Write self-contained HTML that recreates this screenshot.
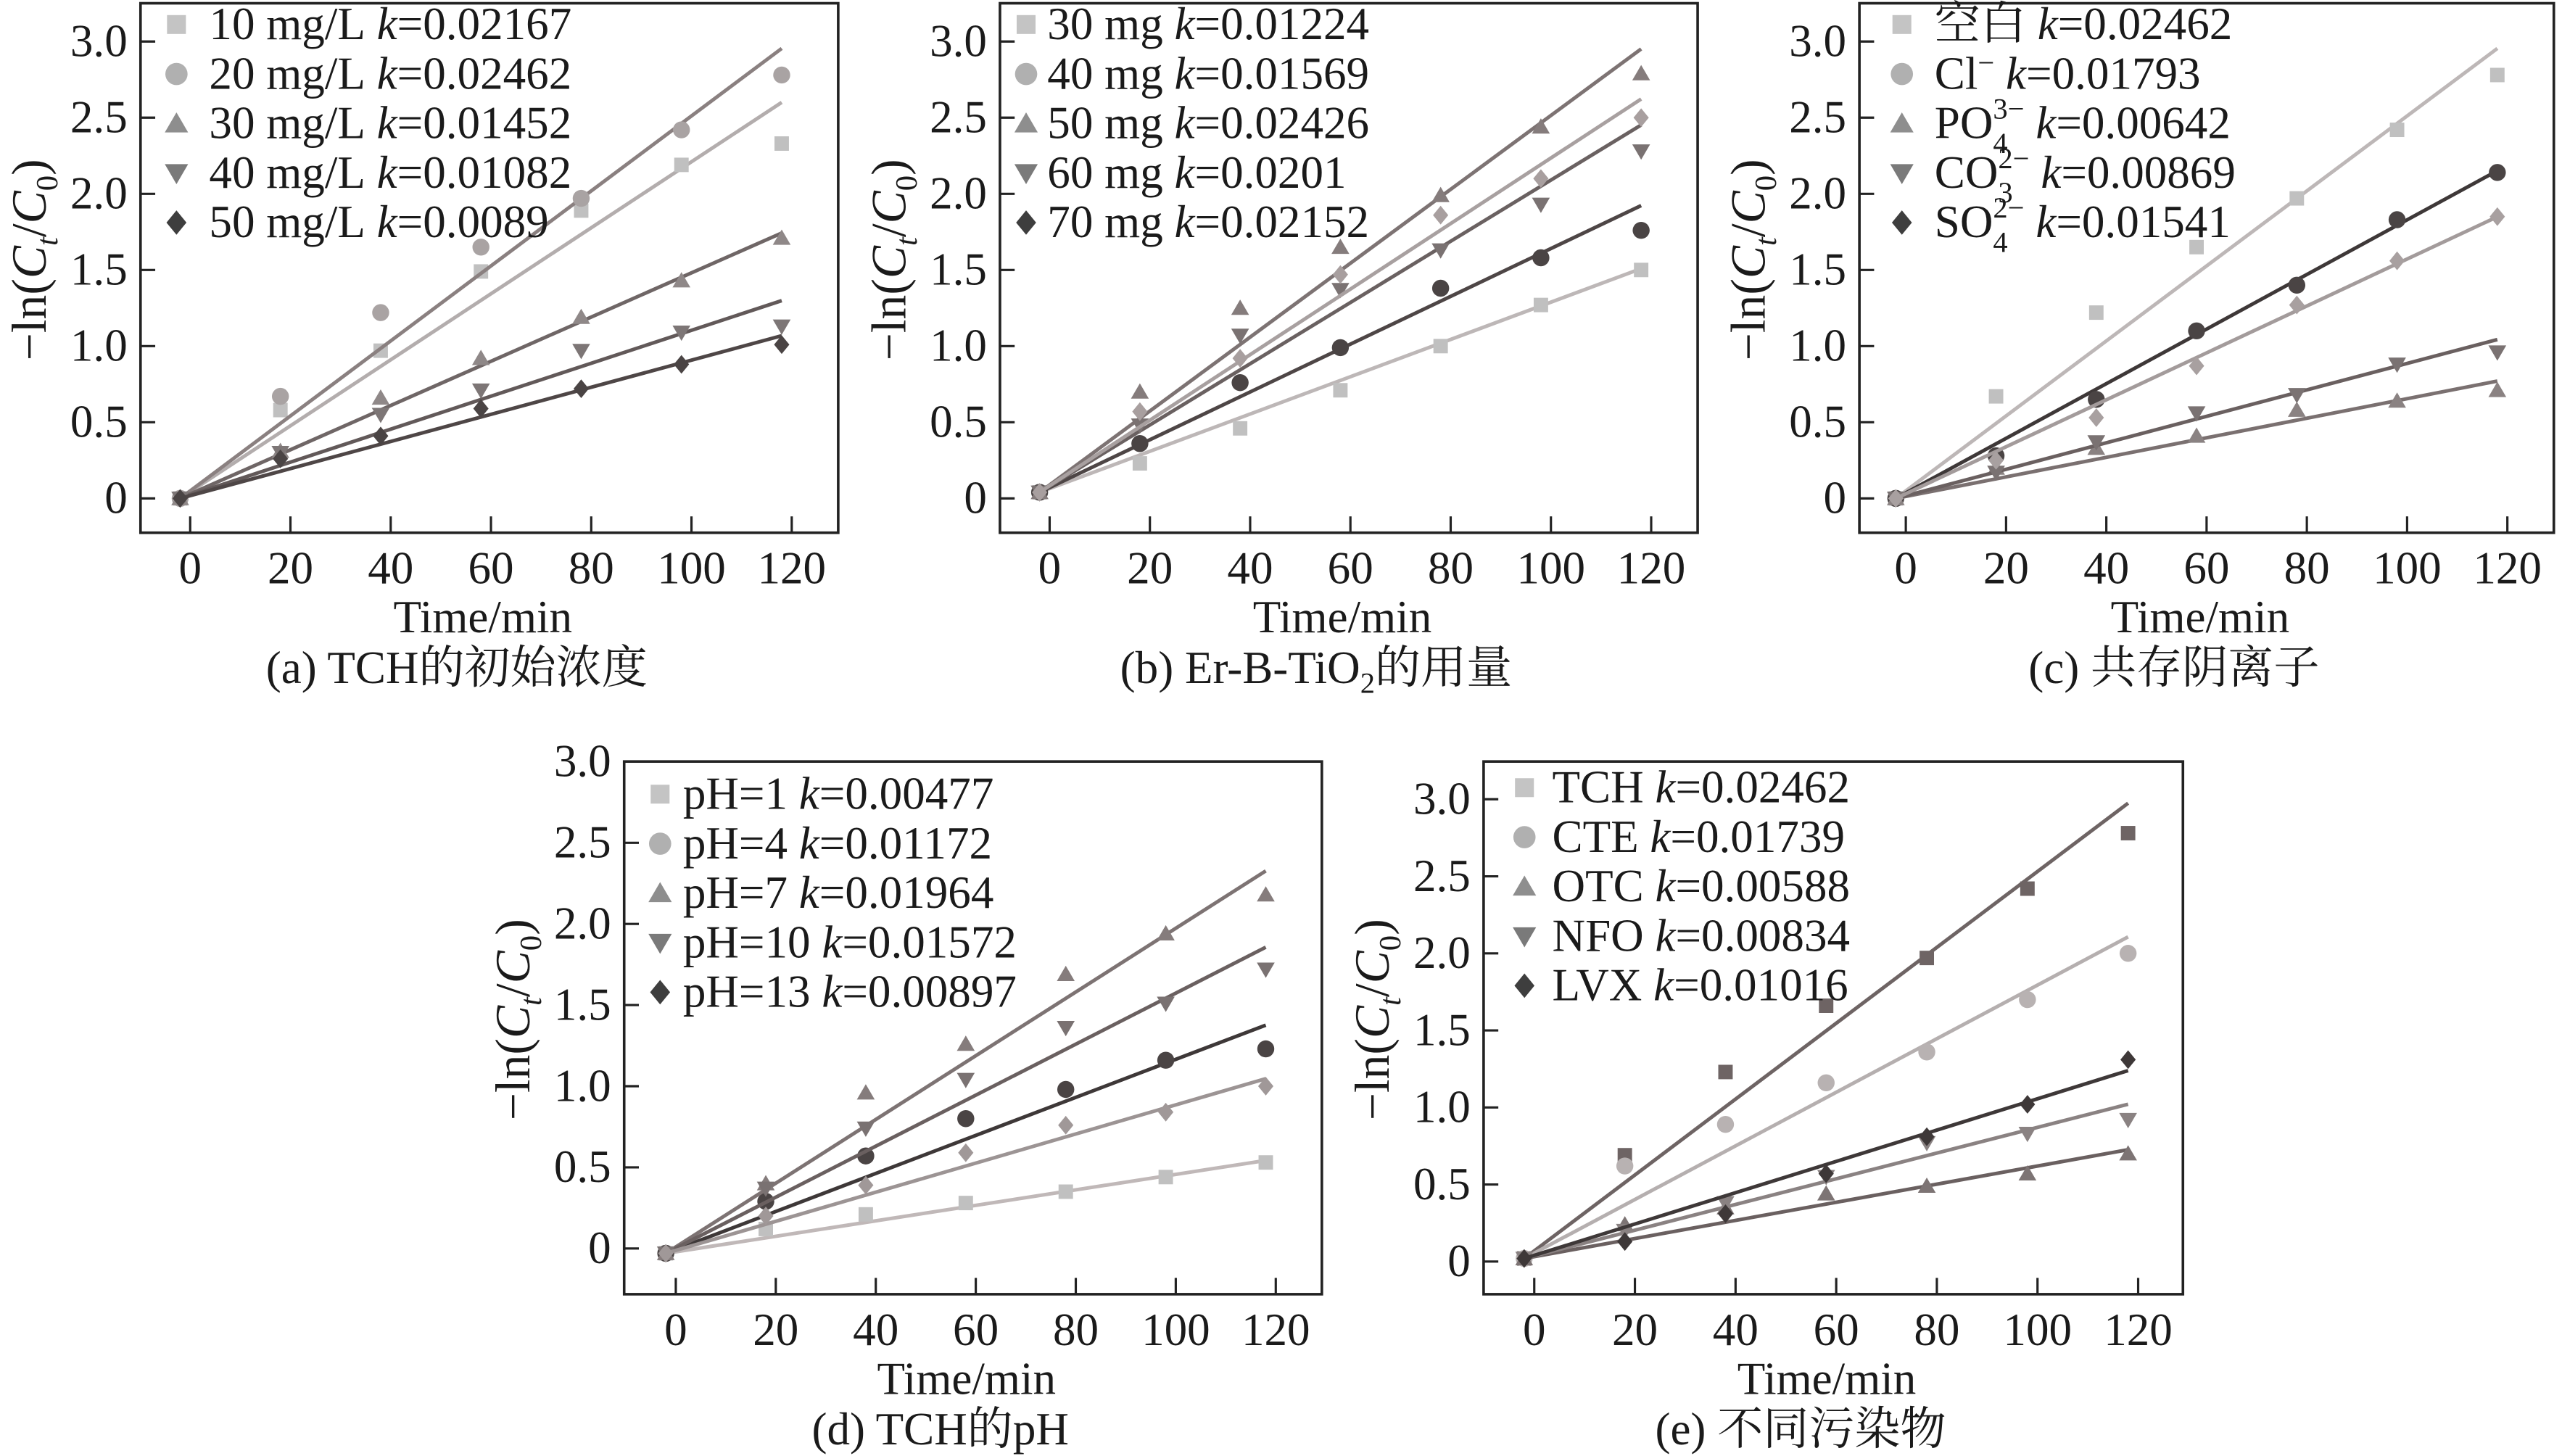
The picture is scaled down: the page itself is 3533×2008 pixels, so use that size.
<!DOCTYPE html>
<html><head><meta charset="utf-8"><style>
html,body{margin:0;padding:0;background:#fff;}
svg{display:block;}
text{font-family:"Liberation Serif","Noto Serif CJK SC","Noto Sans CJK SC",serif;fill:#1a1a1a;}
</style></head><body>
<svg id="fig" xmlns="http://www.w3.org/2000/svg" width="3533" height="2008" viewBox="0 0 1568 891" preserveAspectRatio="none"></svg>
<script>
// ---- shared data ----
const times = [-2, 18, 38, 58, 78, 98, 118];
const xTicks = [0, 20, 40, 60, 80, 100, 120];
const yTicks = [0, 0.5, 1.0, 1.5, 2.0, 2.5, 3.0];
const yTickLabels = ["0", "0.5", "1.0", "1.5", "2.0", "2.5", "3.0"];

// panel a
const aLabels = ["10 mg/L", "20 mg/L", "30 mg/L", "40 mg/L", "50 mg/L"];
const aK = [0.02167, 0.02462, 0.01452, 0.01082, 0.0089];
const aS1 = [0, 0.58, 0.97, 1.49, 1.89, 2.19, 2.33];
const aS2 = [0, 0.67, 1.22, 1.65, 1.97, 2.42, 2.78];
const aS3 = [0, 0.31, 0.66, 0.92, 1.19, 1.43, 1.71];
const aS4 = [0, 0.30, 0.55, 0.71, 0.97, 1.09, 1.13];
const aS5 = [0, 0.26, 0.41, 0.59, 0.72, 0.88, 1.01];
// panel b
const bLabels = ["30 mg", "40 mg", "50 mg", "60 mg", "70 mg"];
const bK = [0.01224, 0.01569, 0.02426, 0.0201, 0.02152];
const bS1 = [0.04, 0.23, 0.46, 0.71, 1.00, 1.27, 1.50];
const bS2 = [0.04, 0.36, 0.76, 0.99, 1.38, 1.58, 1.76];
const bS3 = [0.04, 0.70, 1.25, 1.65, 1.99, 2.44, 2.79];
const bS4 = [0.04, 0.48, 1.07, 1.37, 1.63, 1.93, 2.28];
const bS5 = [0.04, 0.57, 0.92, 1.47, 1.86, 2.10, 2.50];
// panel c
const cK = [0.02462, 0.01793, 0.00642, 0.00869, 0.01541];
const cS1 = [0, 0.67, 1.22, 1.65, 1.97, 2.42, 2.78];
const cS2 = [0, 0.28, 0.65, 1.10, 1.40, 1.83, 2.14];
const cS3 = [0, 0.20, 0.33, 0.41, 0.58, 0.64, 0.71];
const cS4 = [0, 0.17, 0.37, 0.56, 0.68, 0.88, 0.96];
const cS5 = [0, 0.25, 0.53, 0.87, 1.27, 1.56, 1.85];
// panel d
const dLabels = ["pH=1", "pH=4", "pH=7", "pH=10", "pH=13"];
const dK = [0.00477, 0.01172, 0.01964, 0.01572, 0.00897];
const dS1 = [-0.03, 0.12, 0.21, 0.28, 0.35, 0.44, 0.53];
const dS2 = [-0.03, 0.29, 0.57, 0.80, 0.98, 1.16, 1.23];
const dS3 = [-0.03, 0.40, 0.96, 1.26, 1.69, 1.94, 2.18];
const dS4 = [-0.03, 0.37, 0.74, 1.04, 1.36, 1.51, 1.72];
const dS5 = [-0.03, 0.20, 0.39, 0.59, 0.76, 0.84, 1.00];
// panel e
const eLabels = ["TCH", "CTE", "OTC", "NFO", "LVX"];
const eK = [0.02462, 0.01739, 0.00588, 0.00834, 0.01016];
const eS1 = [0.02, 0.69, 1.23, 1.66, 1.97, 2.42, 2.78];
const eS2 = [0.02, 0.62, 0.89, 1.16, 1.36, 1.70, 2.00];
const eS3 = [0.02, 0.24, 0.35, 0.44, 0.49, 0.57, 0.70];
const eS4 = [0.02, 0.20, 0.38, 0.55, 0.77, 0.83, 0.92];
const eS5 = [0.02, 0.13, 0.31, 0.57, 0.81, 1.02, 1.31];

const NS = "http://www.w3.org/2000/svg";
const svg = document.getElementById('fig');
function mk(tag, attrs, parent) {
  const e = document.createElementNS(NS, tag);
  for (const k in attrs) e.setAttribute(k, attrs[k]);
  (parent || svg).appendChild(e);
  return e;
}
const shapes = ["square", "circle", "up", "down", "diamond"];
const legendCols = ["#c4c4c4", "#b0b0b0", "#8e8e8e", "#7a7a7a", "#3e3e3e"];
function marker(g, shape, cx, cy, r, col) {
  let e;
  if (shape === "square") e = mk('rect', {x: cx - r * 0.85, y: cy - r * 0.85, width: r * 1.7, height: r * 1.7, fill: col}, g);
  else if (shape === "circle") e = mk('circle', {cx: cx, cy: cy, r: r, fill: col}, g);
  else if (shape === "up") e = mk('polygon', {points: `${cx},${cy - r} ${cx - r * 1.05},${cy + r * 0.8} ${cx + r * 1.05},${cy + r * 0.8}`, fill: col}, g);
  else if (shape === "down") e = mk('polygon', {points: `${cx},${cy + r} ${cx - r * 1.05},${cy - r * 0.8} ${cx + r * 1.05},${cy - r * 0.8}`, fill: col}, g);
  else e = mk('polygon', {points: `${cx},${cy - r * 1.1} ${cx + r * 0.9},${cy} ${cx},${cy + r * 1.1} ${cx - r * 0.9},${cy}`, fill: col}, g);
  return e;
}

function panel(p) {
  const g = mk('g', {});
  
  
  const X = t => p.x0 + t * p.sx;
  const Y = v => p.y0v - v * p.sy;
  const fr = mk('rect', {x: p.L, y: p.T, width: p.R - p.L, height: p.B - p.T, fill: 'none', stroke: '#222', 'stroke-width': 1.6}, g);
  
  
  yTicks.forEach((v, i) => {
    const tk = mk('line', {x1: p.L, x2: p.L + 9, y1: Y(v), y2: Y(v), stroke: '#222', 'stroke-width': 1.4}, g);
    
    
    const tl = mk('text', {x: p.L - 8, y: Y(v) + 9, 'text-anchor': 'end', 'font-size': 28}, g);
    tl.textContent = yTickLabels[i];
    
    
  });
  xTicks.forEach(t => {
    const tk = mk('line', {x1: X(t), x2: X(t), y1: p.B, y2: p.B - 10, stroke: '#222', 'stroke-width': 1.4}, g);
    
    
    const tl = mk('text', {x: X(t), y: p.B + 31, 'text-anchor': 'middle', 'font-size': 28}, g);
    tl.textContent = String(t);
    
    
  });
  const xt = mk('text', {x: (p.L + p.R) / 2 - 4, y: p.B + 61, 'text-anchor': 'middle', 'font-size': 28}, g);
  xt.textContent = 'Time/min';
  
  
  const yc = (p.T + p.B) / 2 - 5;
  const yt = mk('text', {x: 0, y: 0, 'text-anchor': 'middle', 'font-size': 30, transform: `translate(${p.L - 58},${yc}) rotate(-90)`}, g);
  yt.innerHTML = '−ln(<tspan font-style="italic">C</tspan><tspan font-style="italic" font-size="19" dy="7">t</tspan><tspan dy="-7">/</tspan><tspan font-style="italic">C</tspan><tspan font-size="19" dy="7">0</tspan><tspan dy="-7">)</tspan>';
  
  
  const cap = mk('text', {x: (p.L + p.R) / 2 - 20, y: p.B + 92, 'text-anchor': 'middle', 'font-size': 28}, g);
  cap.innerHTML = p.caption;
  
  
  p.series.forEach((s, i) => {
    const sg = mk('g', {}, g);
    
    
    const t0 = times[0], t1 = times[times.length - 1];
    const ln = mk('line', {x1: X(t0), y1: Y(p.b0), x2: X(t1), y2: Y(p.b0 + p.k[i] * (t1 - t0)), stroke: p.lineCols[i], 'stroke-width': 2.2}, sg);
    
    
    s.forEach((v, j) => {
      const m = marker(sg, shapes[i], X(times[j]), Y(v), 5.2, p.markCols[i]);
      
      
    });
  });
  p.legend.forEach((lab, i) => {
    const ly = p.legY + i * 30.3;
    const m = marker(g, shapes[i], p.legMX, ly, 6.8, legendCols[i]);
    
    
    const tx = mk('text', {x: p.legTX, y: ly + 9, 'font-size': 28}, g);
    tx.innerHTML = lab + '<tspan> </tspan><tspan font-style="italic">k</tspan>=' + p.k[i];
    
    
  });
}

panel({id: 'a', L: 86, R: 513, T: 2, B: 326, x0: 116.4, sx: 3.068, y0v: 305, sy: 93.2, b0: 0,
  k: aK, series: [aS1, aS2, aS3, aS4, aS5], legend: aLabels,
  lineCols: ["#b3adad", "#8a8080", "#6f6666", "#625959", "#4e4646"],
  markCols: ["#c0c0c0", "#a9a3a3", "#8f8888", "#7d7676", "#4a4444"],
  legMX: 108, legTX: 128, legY: 15, caption: '(a) TCH的初始浓度'});
panel({id: 'b', L: 612, R: 1039, T: 2, B: 326, x0: 642.4, sx: 3.068, y0v: 305, sy: 93.2, b0: 0.04,
  k: bK, series: [bS1, bS2, bS3, bS4, bS5], legend: bLabels,
  lineCols: ["#bdb7b7", "#4e4646", "#7d7373", "#6a6161", "#a8a0a0"],
  markCols: ["#c0c0c0", "#4a4444", "#857c7c", "#7a7272", "#a89f9f"],
  legMX: 628, legTX: 641, legY: 15, caption: '(b) Er-B-TiO<tspan font-size="18" dy="6">2</tspan><tspan dy="-6">的用量</tspan>'});
panel({id: 'c', L: 1138, R: 1563, T: 2, B: 326, x0: 1166.4, sx: 3.068, y0v: 305, sy: 93.2, b0: 0,
  k: cK, series: [cS1, cS2, cS3, cS4, cS5],
  legend: ['空白', 'Cl<tspan font-size="18" dy="-10">−</tspan><tspan dy="10"> </tspan>',
    'PO<tspan font-size="18" dy="9">4</tspan><tspan font-size="18" dx="-9" dy="-21">3−</tspan><tspan dy="12"> </tspan>',
    'CO<tspan font-size="18" dy="9">3</tspan><tspan font-size="18" dx="-9" dy="-21">2−</tspan><tspan dy="12"> </tspan>',
    'SO<tspan font-size="18" dy="9">4</tspan><tspan font-size="18" dx="-9" dy="-21">2−</tspan><tspan dy="12"> </tspan>'],
  lineCols: ["#bdb7b7", "#3e3838", "#7a7070", "#6a6060", "#a39b9b"],
  markCols: ["#c0c0c0", "#4a4444", "#8a8282", "#7a7272", "#a8a0a0"],
  legMX: 1164, legTX: 1184, legY: 15, caption: '(c) 共存阴离子'});
panel({id: 'd', L: 382, R: 809, T: 466, B: 792, x0: 413.6, sx: 3.06, y0v: 764, sy: 99.3, b0: -0.03,
  k: dK, series: [dS1, dS2, dS3, dS4, dS5], legend: dLabels,
  lineCols: ["#c0b8b8", "#3e3838", "#7d7373", "#6a6060", "#9c9494"],
  markCols: ["#c0c0c0", "#4a4444", "#857c7c", "#7a7272", "#a09898"],
  legMX: 404, legTX: 418, legY: 486, caption: '(d) TCH的pH'});
panel({id: 'e', L: 908, R: 1336, T: 466, B: 792, x0: 939, sx: 3.08, y0v: 772, sy: 94.3, b0: 0.02,
  k: eK, series: [eS1, eS2, eS3, eS4, eS5], legend: eLabels,
  lineCols: ["#6e6464", "#b5afaf", "#6a6060", "#8a8282", "#3e3838"],
  markCols: ["#6e6464", "#b8b2b2", "#7d7474", "#8a8282", "#3e3838"],
  legMX: 933, legTX: 950, legY: 482, caption: '(e) 不同污染物'});
</script>
</body></html>
